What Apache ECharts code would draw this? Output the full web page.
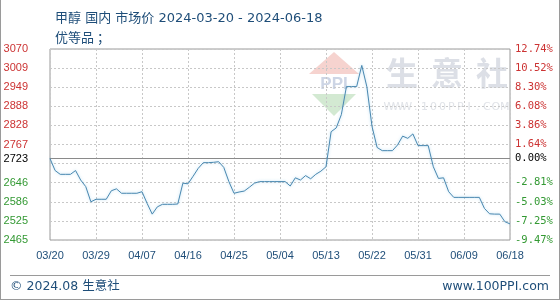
<!DOCTYPE html>
<html>
<head>
<meta charset="utf-8">
<script src="https://cdn.jsdelivr.net/npm/echarts@6/dist/echarts.min.js"></script>
<style>
html,body{margin:0;padding:0;background:#fff;}
#chart{width:560px;height:300px;}
</style>
</head>
<body>
<div id="chart"></div>
<script>
// ---- data ----
var dates = [
 '03/20','03/21','03/22','03/23','03/24','03/25','03/26','03/27','03/28','03/29','03/30','03/31',
 '04/01','04/02','04/03','04/04','04/05','04/06','04/07','04/08','04/09','04/10','04/11','04/12','04/13','04/14','04/15','04/16','04/17','04/18','04/19','04/20','04/21','04/22','04/23','04/24','04/25','04/26','04/27','04/28','04/29','04/30',
 '05/01','05/02','05/03','05/04','05/05','05/06','05/07','05/08','05/09','05/10','05/11','05/12','05/13','05/14','05/15','05/16','05/17','05/18','05/19','05/20','05/21','05/22','05/23','05/24','05/25','05/26','05/27','05/28','05/29','05/30','05/31',
 '06/01','06/02','06/03','06/04','06/05','06/06','06/07','06/08','06/09','06/10','06/11','06/12','06/13','06/14','06/15','06/16','06/17','06/18'
];
var prices = [
 2723,2685,2673,2673,2673,2685,2655,2634,2586,2594,2594,2594,
 2621,2627,2613,2613,2613,2613,2618,2581,2547,2570,2578,2578,2578,2579,2645,2643,2667,2692,2710,2710,2711,2713,2695,2650,2613,2617,2620,2632,2645,2650,
 2650,2650,2650,2650,2650,2636,2662,2655,2669,2659,2673,2683,2697,2808,2820,2862,2951,2951,2951,3018,2950,2825,2758,2748,2748,2748,2766,2794,2787,2801,2764,
 2764,2764,2697,2660,2662,2618,2600,2600,2600,2600,2600,2600,2565,2548,2547,2547,2523,2516
];
var basePrice = 2723;
var yMin = 2465, yMax = 3070, yStep = 60.5;
var leftTickValues = [2465, 2525.5, 2586, 2646.5, 2723, 2767.5, 2828, 2888.5, 2949, 3009.5, 3070];
var leftTickLabels = ['2465','2525','2586','2646','2723','2767','2828','2888','2949','3009','3070'];
var rightTickLabels = ['-9.47%','-7.25%','-5.03%','-2.81%','0.00%','1.64%','3.86%','6.08%','8.30%','10.52%','12.74%'];
var titleText = '甲醇 国内 市场价 2024-03-20 - 2024-06-18';
var subTitleText = '优等品 ；';
var footerLeft = '© 2024.08 生意社';
var footerRight = 'www.100PPI.com';
var watermarkChars = ['生','意','社'];
var watermarkUrl = 'WWW.100PPI.COM';

function tickFmt(labels){
  return function(v){
    var idx = -1;
    for (var i=0;i<leftTickValues.length;i++){ if (Math.abs(leftTickValues[i]-v)<0.01){idx=i;break;} }
    if (idx<0) return '';
    var s = v>basePrice+0.01 ? 'up' : (v<basePrice-0.01 ? 'dn' : 'bs');
    return '{'+s+'|'+labels[idx]+'}';
  };
}
var blue = '#1f4e79';
var chart = echarts.init(document.getElementById('chart'), null, {renderer:'canvas'});
var leftRich = {
  up:{color:'#cc3333', fontFamily:'Liberation Sans', fontSize:11},
  dn:{color:'#339933', fontFamily:'Liberation Sans', fontSize:11},
  bs:{color:'#000000', fontFamily:'Liberation Sans', fontSize:11}
};
var rightRich = {
  up:{color:'#cc3333', fontFamily:'DejaVu Sans Mono', fontSize:10.5},
  dn:{color:'#339933', fontFamily:'DejaVu Sans Mono', fontSize:10.5},
  bs:{color:'#000000', fontFamily:'DejaVu Sans Mono', fontSize:10.5}
};
var graphics = [
  {type:'polygon', shape:{points:[[334,52],[309,74],[359,74]]}, style:{fill:'#f6d3cf'}, z:0},
  {type:'text', style:{x:334, y:84, text:'PPI', fontSize:17, fontWeight:'bold', fontFamily:'Liberation Sans', fill:'#cdd5e5', align:'center', verticalAlign:'middle'}, z:0},
  {type:'polygon', shape:{points:[[312,94],[356,94],[334,116]]}, style:{fill:'#d3e9d2'}, z:0},
  {type:'line', shape:{x1:10, y1:275.5, x2:550, y2:275.5}, style:{stroke:'#9a9a9a', lineWidth:1}},
  {type:'text', style:{x:10, y:287, text:footerLeft, fontSize:12.5, fontFamily:'DejaVu Sans, Noto Sans CJK SC', fill:blue, verticalAlign:'middle'}},
  {type:'text', style:{x:549, y:287, text:footerRight, fontSize:12.5, fontFamily:'DejaVu Sans', fill:blue, align:'right', verticalAlign:'middle'}},
  {type:'line', shape:{x1:0.5, y1:0, x2:0.5, y2:300}, style:{stroke:'#9a9a9a', lineWidth:1}},
  {type:'line', shape:{x1:559.5, y1:0, x2:559.5, y2:300}, style:{stroke:'#9a9a9a', lineWidth:1}},
  {type:'line', shape:{x1:0, y1:299.5, x2:560, y2:299.5}, style:{stroke:'#9a9a9a', lineWidth:1}}
];
watermarkChars.forEach(function(ch, i){
  graphics.push({type:'text', style:{x:402 + i*45, y:73, text:ch, fontSize:32, fontWeight:'bold', fontFamily:'Noto Sans CJK SC', fill:'#dcdfe6', align:'center', verticalAlign:'middle'}, z:0});
});
watermarkUrl.split('').forEach(function(ch, i){
  graphics.push({type:'text', style:{x:389 + i*8.9, y:107, text:ch, fontSize:11, fontFamily:'DejaVu Sans', fill:'#e0e3e8', align:'center', verticalAlign:'middle'}, z:0});
});
chart.setOption({
  animation:false,
  backgroundColor:'#ffffff',
  title:[
    {text:titleText, left:50, top:7, textStyle:{fontSize:13, fontWeight:'normal', color:blue, fontFamily:'DejaVu Sans, Noto Sans CJK SC'}},
    {text:subTitleText, left:50, top:26, textStyle:{fontSize:13, fontWeight:'normal', color:blue, fontFamily:'Noto Sans CJK SC'}}
  ],
  grid:{left:50, top:49, width:460, height:191, show:true, borderColor:'#9a9a9a', borderWidth:1, backgroundColor:'transparent'},
  xAxis:{
    type:'category', data:dates, boundaryGap:false,
    axisLine:{show:false}, axisTick:{show:false},
    axisLabel:{interval:8, margin:10, color:blue, fontFamily:'Liberation Sans', fontSize:11},
    splitLine:{show:true, interval:8, lineStyle:{color:'#c8c8c8', type:[2,2], width:1}}
  },
  yAxis:[
    {type:'value', min:yMin, max:yMax, interval:yStep, position:'left',
     axisLine:{show:false}, axisTick:{show:false},
     splitLine:{show:true, lineStyle:{color:'#c8c8c8', type:[2,2], width:1}},
     axisLabel:{customValues:leftTickValues, margin:22, formatter:tickFmt(leftTickLabels), rich:leftRich}},
    {type:'value', min:yMin, max:yMax, interval:yStep, position:'right',
     axisLine:{show:false}, axisTick:{show:false}, splitLine:{show:false},
     axisLabel:{customValues:leftTickValues, margin:5, formatter:tickFmt(rightTickLabels), rich:rightRich}}
  ],
  series:[{
    type:'line', data:prices, showSymbol:false, symbol:'none',
    lineStyle:{color:'#4a88b0', width:1, shadowColor:'rgba(120,190,230,0.6)', shadowBlur:3},
    z:5,
    markLine:{silent:true, symbol:'none', label:{show:false},
      lineStyle:{color:'#8a8a8a', type:'solid', width:1},
      data:[{yAxis:basePrice}]}
  }],
  graphic:graphics
});
</script>
</body>
</html>
